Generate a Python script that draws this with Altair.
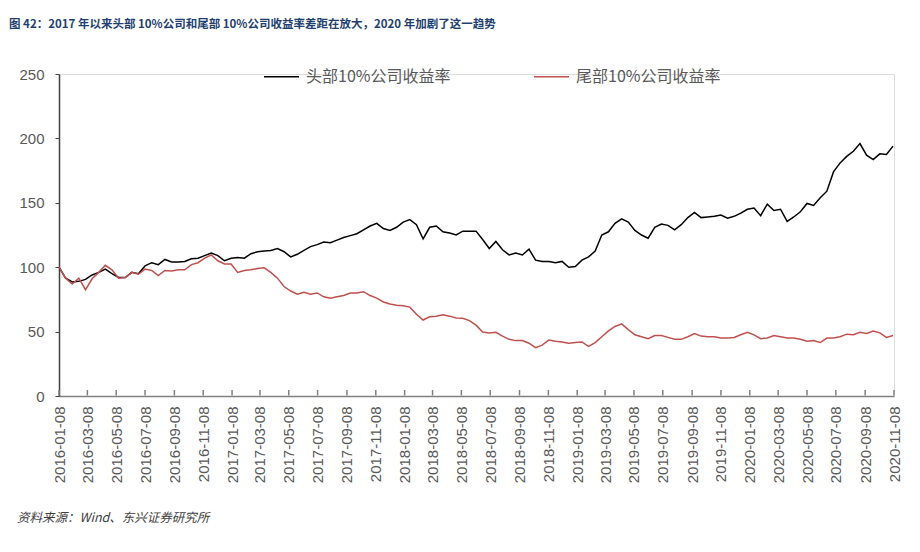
import altair as alt
import pandas as pd

title_text = "图 42：2017 年以来头部 10%公司和尾部 10%公司收益率差距在放大，2020 年加剧了这一趋势"
source_text = "资料来源：Wind、东兴证券研究所"
series_names = ["头部10%公司收益率", "尾部10%公司收益率"]
series_colors = ["#000000", "#C0504D"]

start_date = "2016-01-08"
step_days = 14

head = [
    100, 91.5, 88.5, 89, 90.5, 94, 96, 98.5, 95, 92,
    92, 96, 95, 101, 103.5, 102, 106, 104, 104, 104.5,
    106.5, 107, 109, 111, 109, 105, 107, 107.5, 107, 110.5,
    112, 112.5, 113, 114.5, 112, 108, 110, 113, 116, 117.5,
    119.5, 119, 121, 123, 124.5, 126, 129, 132, 134, 130,
    128.5, 131, 135, 137, 133, 122, 131, 132, 127.5, 126.5,
    125, 128, 128, 128, 121.5, 114.5, 120, 113.5, 109.5, 111,
    109.5, 114, 105.5, 104.5, 104.5, 103.5, 104.5, 100, 100.5, 105.5,
    108, 112.5, 125, 127.5, 134, 137.5, 135, 128.5, 125, 122.5,
    131, 133.5, 132.5, 129, 133, 138.5, 142.5, 138.5, 139, 139.5,
    140.5, 138, 139.5, 142, 145, 146, 140, 149, 144, 145,
    135.5, 139, 143, 149.5, 148, 154, 159, 174, 181, 186,
    190, 196, 187, 183.5, 188, 187.5, 194,
]

tail = [
    100, 91.5, 87, 91.5, 82.5, 91, 96, 101.5, 98, 91.5,
    92, 96, 94.5, 98.5, 97.5, 93.5, 97.5, 97, 98, 98,
    102, 103.5, 107, 109.5, 105, 102.5, 102.5, 96, 97.5, 98,
    99, 99.5, 96, 91.5, 85, 81.5, 79, 80.5, 79, 80,
    77, 76, 77, 78, 80, 80, 81, 78, 76, 73,
    71.5, 70.5, 70, 69, 63.5, 59, 61.5, 62, 63, 62,
    60.5, 60.3, 58.5, 55, 49.7, 49, 49.5, 46.5, 44, 43,
    43, 41, 37.5, 39.5, 43.5, 42.5, 42, 41, 41.5, 42,
    38.5, 41.5, 46, 50.5, 54, 56, 51.5, 47.5, 46, 44.5,
    47, 47, 45.5, 44, 44, 46, 48.5, 46.5, 46, 46,
    45, 45, 45.5, 47.5, 49.5, 47.5, 44.5, 45, 47, 46,
    45, 45, 44, 42.5, 43, 41.5, 45, 45, 46, 48,
    47.5, 49.5, 48.5, 50.5, 49, 45.5, 47,
]

tick_dates = [f"{y}-{m:02d}-08" for y in range(2016, 2021) for m in (1, 3, 5, 7, 9, 11)]
y_ticks = [0, 50, 100, 150, 200, 250]

dates = pd.date_range(start_date, periods=len(head), freq=f"{step_days}D").strftime("%Y-%m-%d")
df = pd.concat([
    pd.DataFrame({"date": dates, "value": head, "series": series_names[0]}),
    pd.DataFrame({"date": dates, "value": tail, "series": series_names[1]}),
])
ticks_df = pd.DataFrame({"date": tick_dates})

W, H = 835, 322
x_domain = [alt.DateTime(year=2016, month=1, date=8, utc=True),
            alt.DateTime(year=2020, month=11, date=8, utc=True)]
x_values = [alt.DateTime(year=int(d[:4]), month=int(d[5:7]), date=8, utc=True) for d in tick_dates]

x_scale = alt.Scale(type="utc", domain=x_domain, nice=False)
x_axis = alt.Axis(values=x_values, labelExpr="utcFormat(datum.value, '%Y-%m-%d')",
                  labelAngle=270, labelFontSize=15, labelColor="#595959",
                  labelFont="Liberation Sans", labelPadding=10, ticks=False,
                  domainColor="#808080", domainWidth=1.5, grid=False,
                  labelOverlap=False, labelFlush=False)

lines = alt.Chart(df).mark_line(strokeWidth=1.5).encode(
    x=alt.X("date:T", scale=x_scale, title=None, axis=x_axis),
    y=alt.Y("value:Q", scale=alt.Scale(domain=[0, 250], nice=False), title=None,
            axis=alt.Axis(values=y_ticks, labelFontSize=15, labelColor="#595959",
                          labelFont="Liberation Sans", tickSize=4, tickColor="#404040",
                          labelPadding=11, domainColor="#404040", domainWidth=1.5,
                          grid=False)),
    color=alt.Color("series:N", scale=alt.Scale(domain=series_names, range=series_colors),
                    legend=alt.Legend(orient="none", legendX=204, legendY=-16,
                                      direction="horizontal", title=None,
                                      symbolType="stroke", symbolSize=1225,
                                      symbolStrokeWidth=1.5, labelFontSize=16,
                                      labelFont="Noto Sans CJK SC", labelColor="#595959",
                                      columnPadding=80, labelOffset=6, labelLimit=300)),
    detail="series:N",
)

tick_marks = alt.Chart(ticks_df).mark_rule(color="#808080", strokeWidth=1.5).encode(
    x=alt.X("date:T", scale=x_scale, title=None, axis=x_axis),
    y=alt.value(H - 0.5),
    y2=alt.value(H - 6),
)

title_mark = alt.Chart(pd.DataFrame({"t": [title_text]})).mark_text(
    align="left", baseline="middle", font="Noto Sans CJK SC", fontWeight="bold",
    fontSize=11.5, color="#1F3F70"
).encode(text="t:N", x=alt.value(-50), y=alt.value(-49))

source_mark = alt.Chart(pd.DataFrame({"t": [source_text]})).mark_text(
    align="left", baseline="middle", font="Noto Sans CJK SC", fontStyle="italic",
    fontSize=12.5, color="#404040"
).encode(text="t:N", x=alt.value(-42), y=alt.value(444))

chart = alt.layer(lines, tick_marks, title_mark, source_mark).properties(
    width=W, height=H,
    autosize=alt.AutoSizeParams(type="none"),
    padding={"left": 59, "top": 74, "right": 26, "bottom": 156},
).configure_view(stroke=None).configure(background="white")

chart.save("out.html", embed_options={"renderer": "svg", "actions": False})
